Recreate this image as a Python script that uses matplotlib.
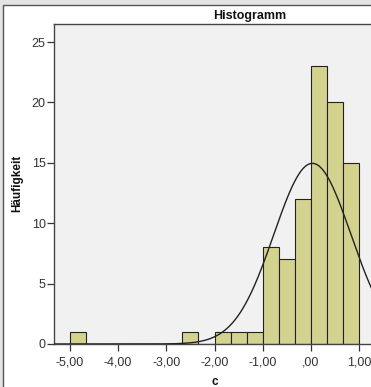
import matplotlib

matplotlib.use("Agg")
import matplotlib.pyplot as plt
import numpy as np
from matplotlib.patches import Rectangle

# Histogram bins (width 1/3), left edges from -5.00 to 0.67
bin_width = 1 / 3
bin_lefts = [-5 + i * bin_width for i in range(18)]
counts = [1, 0, 0, 0, 0, 0, 0, 1, 0, 1, 1, 1, 8, 7, 12, 23, 20, 15]

# Normal curve parameters
fit_mean = 0.03
fit_sd = 0.80
fit_n = 90

x_ticks = [-5, -4, -3, -2, -1, 0, 1]
x_tick_labels = ["-5,00", "-4,00", "-3,00", "-2,00", "-1,00", ",00", "1,00"]
y_ticks = [0, 5, 10, 15, 20, 25]

W, H = 371, 387
plt.rcParams["font.family"] = ["Liberation Sans", "DejaVu Sans"]

fig = plt.figure(figsize=(W / 100, H / 100), dpi=100)
fig.patch.set_facecolor("#e4e4e4")

# outer chart frame (cropped at right and bottom)
fig.patches.append(
    Rectangle((3 / W, -0.1), 1.2, 1 - 5 / H + 0.1, transform=fig.transFigure,
              facecolor="white", edgecolor="#555555", linewidth=1.0, zorder=-5)
)

# plot area in pixel coords: left 54, right 376, top 24, bottom 344
ax = fig.add_axes([54 / W, (H - 344) / H, (376 - 54) / W, (344 - 24) / H])
ax.set_zorder(2)
ax.set_facecolor("#f1f1f1")

ax.bar(bin_lefts, counts, width=bin_width, align="edge",
       color="#d4d28f", edgecolor="#222222", linewidth=0.8, zorder=2)

xs = np.linspace(-5.33, 1.35, 400)
ys = fit_n * bin_width / (fit_sd * np.sqrt(2 * np.pi)) * np.exp(-0.5 * ((xs - fit_mean) / fit_sd) ** 2)
ax.plot(xs, ys, color="#222222", linewidth=1.0, zorder=3)

ax.set_xlim(-5.33, 1.35)
ax.set_ylim(0, 26.5)
ax.set_xticks(x_ticks)
ax.set_xticklabels(x_tick_labels)
ax.set_yticks(y_ticks)
ax.tick_params(axis="both", direction="out", length=5, width=0.9, color="#333333",
               labelsize=9, labelcolor="#333333")
ax.tick_params(axis="x", pad=4)
ax.tick_params(axis="y", pad=1)
for side in ["left", "top", "bottom", "right"]:
    ax.spines[side].set_color("#444444")
    ax.spines[side].set_linewidth(1.0)

fig.text(250 / W, 1 - 16 / H, "Histogramm", ha="center", va="center",
         fontsize=9, fontweight="bold", color="#111111")
fig.text(17 / W, 1 - 183 / H, "Häufigkeit", ha="center", va="center",
         rotation=90, fontsize=8.5, fontweight="bold", color="#111111")
fig.text(215 / W, 1 - 382 / H, "c", ha="center", va="center",
         fontsize=8.5, fontweight="bold", color="#111111")

fig.savefig("out.png", dpi=100, facecolor=fig.get_facecolor())
